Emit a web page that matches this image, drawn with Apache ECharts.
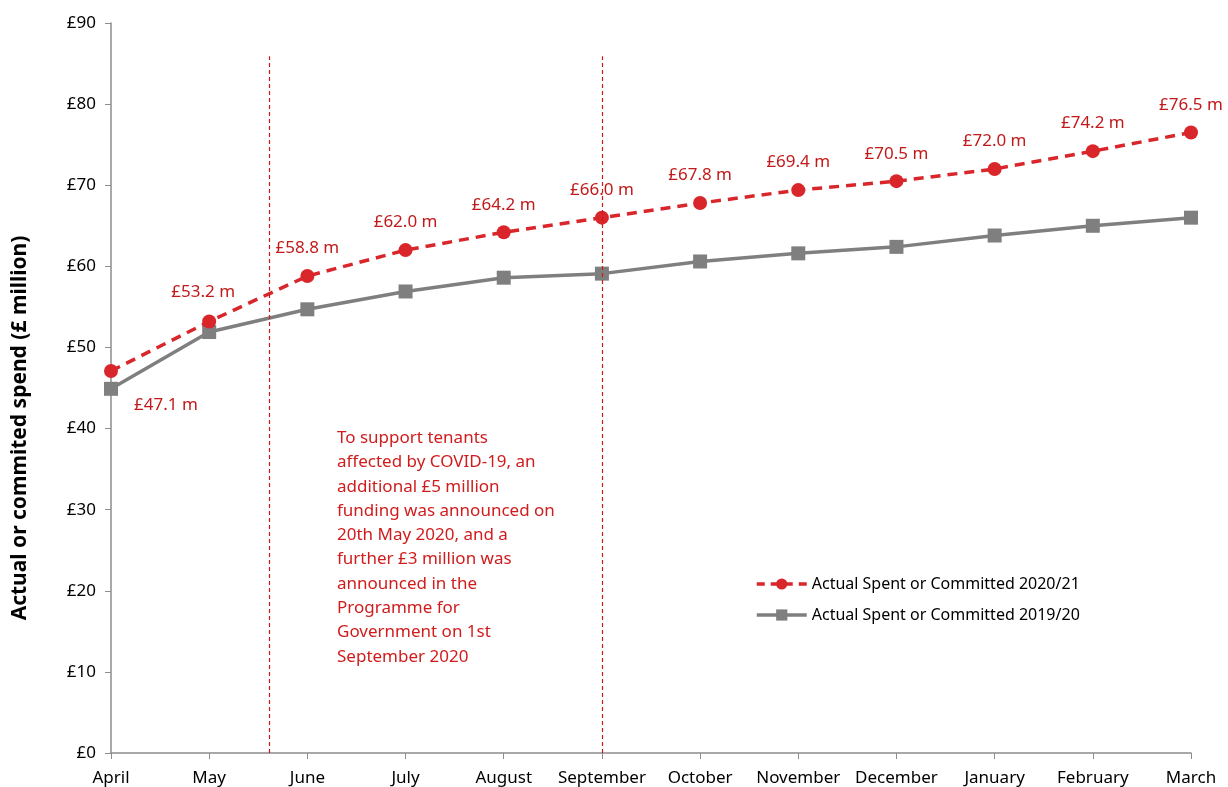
<!DOCTYPE html>
<html><head><meta charset="utf-8">
<script src="https://cdn.jsdelivr.net/npm/echarts@6/dist/echarts.min.js"></script>
<style>html,body{margin:0;padding:0;background:#fff}#c{width:1228px;height:787px}</style>
</head><body><div id="c"></div>
<script>
const months = ['April','May','June','July','August','September','October','November','December','January','February','March'];
const spend2021 = [47.1, 53.2, 58.8, 62.0, 64.2, 66.0, 67.8, 69.4, 70.5, 72.0, 74.2, 76.5];
const spend1920 = [44.9, 51.9, 54.7, 56.9, 58.6, 59.1, 60.6, 61.6, 62.4, 63.8, 65.0, 66.0];
const yTicks = [0,10,20,30,40,50,60,70,80,90];
const eventLines = [1.61, 5];
const noteLines = ['To support tenants','affected by COVID-19, an','additional £5 million','funding was announced on','20th May 2020, and a','further £3 million was','announced in the','Programme for','Government on 1st','September 2020'];

const FONT = "'Liberation Sans Narrow','Noto Sans',sans-serif";
const RED = '#d9262b', GRAY = '#7f7f7f', AX = '#8c8c8c';
const chart = echarts.init(document.getElementById('c'));
chart.setOption({
  animation:false,
  textStyle:{fontFamily:FONT},
  grid:{left:111,right:37,top:23,bottom:33},
  xAxis:{type:'value',min:0,max:months.length-1,interval:1,
    axisLine:{lineStyle:{color:AX,width:1.5}},
    axisTick:{show:true,length:6,lineStyle:{color:AX}},
    splitLine:{show:false},
    axisLabel:{formatter:v=>months[v]||'',color:'#000',fontSize:17,margin:17,fontFamily:FONT}
  },
  yAxis:{type:'value',min:yTicks[0],max:yTicks[yTicks.length-1],interval:10,
    axisLine:{show:true,lineStyle:{color:AX,width:1.5}},
    axisTick:{show:true,length:6,lineStyle:{color:AX}},
    splitLine:{show:false},
    axisLabel:{formatter:v=>'£'+v,color:'#000',fontSize:17,margin:15,fontFamily:FONT}
  },
  legend:{orient:'vertical',left:750,top:571,itemGap:15,itemWidth:50,itemHeight:14,
    textStyle:{fontSize:16,color:'#000',fontFamily:FONT},
    data:[
      {name:'Actual Spent or Committed 2020/21',lineStyle:{width:3.5,type:[8,6]}},
      {name:'Actual Spent or Committed 2019/20',lineStyle:{width:3.5}}
    ]},
  graphic:[
    {type:'text',left:337,top:426,
     style:{text:noteLines.join('\n'),fill:'#d01c1c',fontSize:17,lineHeight:24.3,fontFamily:FONT}},
    {type:'text',x:20,y:428,rotation:Math.PI/2,
     style:{text:'Actual or commited spend (£ million)',fill:'#000',fontSize:21,fontWeight:'bold',
       align:'center',verticalAlign:'middle',fontFamily:FONT}}
  ],
  series:[
    {name:'Actual Spent or Committed 2020/21',type:'line',
     data:spend2021.map((v,i)=>[i,v]),
     symbol:'circle',symbolSize:14,
     itemStyle:{color:RED},lineStyle:{color:RED,width:3.5,type:[10,7]},
     label:{show:true,position:'top',distance:12,color:'#c21a1a',fontSize:17,fontFamily:FONT,
       formatter:p=>'£'+p.value[1].toFixed(1)+' m'},
     labelLayout:function(p){ if(p.dataIndex===0){return {dx:55,dy:62};} if(p.dataIndex===1){return {dx:-6,dy:-2};} return {}; },
     markLine:{silent:true,symbol:'none',label:{show:false},
       lineStyle:{color:'#cc1a1a',width:1.2,type:[4,3]},
       data:eventLines.map(x=>[{coord:[x,0]},{coord:[x,85.9]}])},
     z:3},
    {name:'Actual Spent or Committed 2019/20',type:'line',
     data:spend1920.map((v,i)=>[i,v]),
     symbol:'rect',symbolSize:14,
     itemStyle:{color:GRAY},lineStyle:{color:GRAY,width:3.5},
     z:2}
  ]
});
</script></body></html>
